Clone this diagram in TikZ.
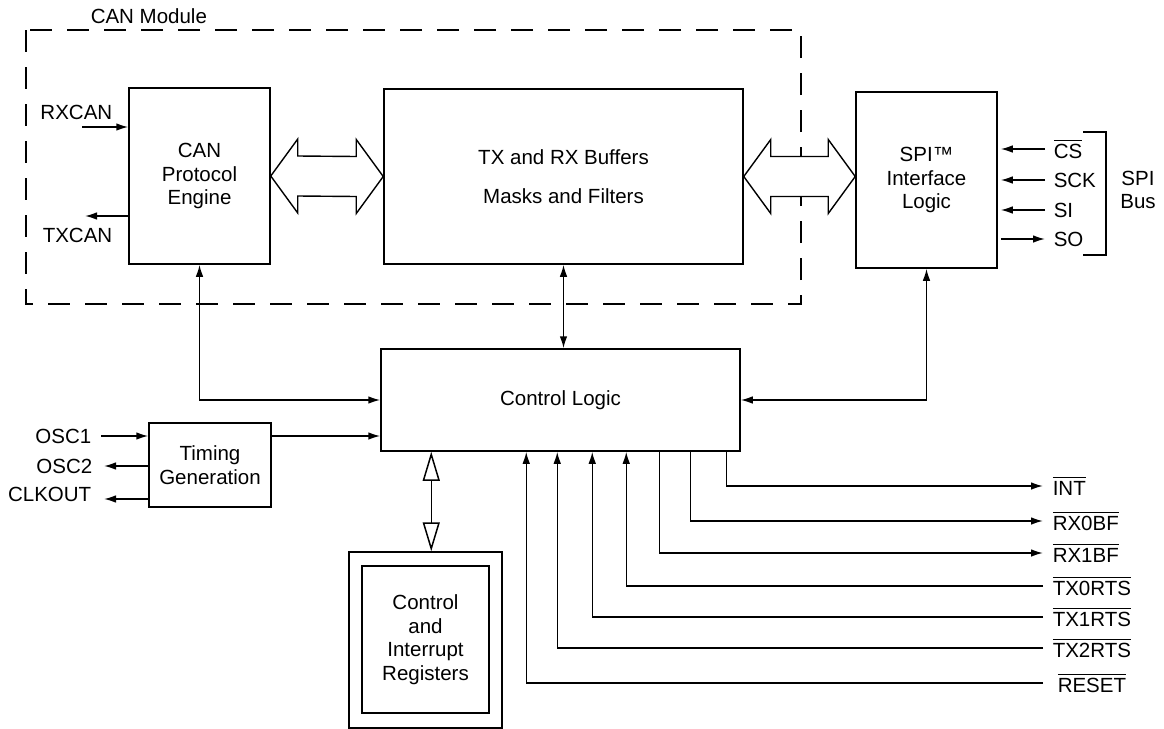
\documentclass[tikz,border=0pt]{standalone}
\usepackage{fontspec}
\setmainfont{Liberation Sans}
\usetikzlibrary{arrows.meta,calc}
\newcommand\ovl[1]{\vbox{\hrule height 0.8pt\kern1.4pt\hbox{#1}}}
\begin{document}
\begin{tikzpicture}[x=0.5pt, y=-0.5pt,
  font=\fontsize{10.25}{11.75}\selectfont, line width=0.75pt,
  box/.style={draw, line width=0.75pt, align=center, inner sep=0pt},
  sig/.style={-{Latex[length=6pt,width=3.8pt]}},
  bisig/.style={{Latex[length=6pt,width=3.8pt]}-{Latex[length=6pt,width=3.8pt]}},
  lbl/.style={inner sep=0pt},
  pin/.style={anchor=west, inner ysep=0pt, inner xsep=4.5pt},
  spipin/.style={anchor=west, inner ysep=0pt, inner xsep=4pt},
  hollow/.style={draw, fill=white, line width=0.7pt, line join=miter},
  modframe/.style={draw, line width=0.7pt, dash pattern=on 11pt off 7.5pt},
  openbi/.style={{Triangle[open,length=14.5pt,width=8.5pt]}-{Triangle[open,length=14.5pt,width=8.5pt]}}
]
\useasboundingbox (0,0) rectangle (1164,729);

% CAN module frame
\draw[modframe] (26,30) rectangle (801,304);
\node[lbl, anchor=west] (canmod) at (90,16) {CAN Module};

% blocks
\node[box, minimum width=70.5pt, minimum height=88pt] (eng) at (199.5,176) {CAN\\Protocol\\Engine};
\node[box, minimum width=179.5pt, minimum height=87.5pt] (buf) at (563.5,176.5) {TX and RX Buffers\\[7.75pt]Masks and Filters};
\node[box, fill=white, minimum width=70.5pt, minimum height=88pt] (spi) at (926.5,180) {SPI™\\Interface\\Logic};
\node[box, minimum width=179.5pt, minimum height=51pt] (ctl) at (560.5,400) {Control Logic};
\node[box, minimum width=61pt, minimum height=42pt] (tim) at (210,465) {Timing\\Generation};
\node[box, minimum width=76.5pt, minimum height=88pt] (regs) at (425.5,640) {};
\node[box, minimum width=63.5pt, minimum height=73.5pt] (regin) at (425.5,639.5) {Control\\and\\Interrupt\\Registers};

% hollow bus arrows
\draw[hollow] (eng.east) -- ++(27,-37) -- ++(0,17) -- ($(buf.west)+(-27,-20)$) -- ++(0,-17)
  -- (buf.west) -- ++(-27,37) -- ++(0,-17) -- ($(eng.east)+(27,20)$) -- ++(0,17) -- cycle;
\coordinate (spiw) at (spi.west |- buf.east);
\draw[hollow] (buf.east) -- ++(27,-37) -- ++(0,17) -- ($(spiw)+(-27,-20)$) -- ++(0,-17)
  -- (spiw) -- ++(-27,37) -- ++(0,-17) -- ($(buf.east)+(27,20)$) -- ++(0,17) -- cycle;

% CAN pins
\node[lbl, anchor=east] (rxcan) at (113,112) {RXCAN};
\node[lbl, anchor=east] (txcan) at (113,235) {TXCAN};
\coordinate (rxin) at (82,127);
\coordinate (txout) at (85,216);
\draw[sig] (rxin) -- (rxin -| eng.west);
\draw[sig] (txout -| eng.west) -- (txout);

% internal connections
\draw[bisig] (eng.south) |- (ctl.west);
\draw[bisig] (buf.south) -- (buf.south |- ctl.north);
\draw[bisig] (spi.south) |- (ctl.east);

% timing
\node[lbl, anchor=east] (osc1) at (92,436) {OSC1};
\node[lbl, anchor=east] (osc2) at (93,466) {OSC2};
\node[lbl, anchor=east] (clk) at (92,494) {CLKOUT};
\draw[sig] ([xshift=4.5pt]osc1.east) -- (osc1.east -| tim.west);
\draw[sig] (tim.west |- osc2.east) -- ([xshift=5.5pt]osc2.east);
\draw[sig] ($(tim.west |- clk.east)+(0,5)$) -- ($(clk.east)+(12,5)$);
\draw[sig] (tim.east |- osc1.east) -- (ctl.west |- osc1.east);

% registers link
\coordinate (cr1) at ($(ctl.south west)+(51,0)$);
\draw[openbi] (cr1) -- (cr1 |- regs.north);

% SPI bus
\node[spipin] (cs) at (1045,149) {\ovl{CS}};
\node[spipin] (sck) at (1045,180) {SCK};
\node[spipin] (si) at (1045,210) {SI};
\node[spipin] (so) at (1045,239) {SO};
\draw[sig, shorten >=1.5pt] (cs.west) -- (cs.west -| spi.east);
\draw[sig, shorten >=1.5pt] (sck.west) -- (sck.west -| spi.east);
\draw[sig, shorten >=1.5pt] (si.west) -- (si.west -| spi.east);
\draw[sig, shorten <=1.5pt] (so.west -| spi.east) -- (so.west);
\draw (1083,132) -| (1106,255) -- (1083,255);
\node[lbl, align=center] (spibus) at (1138,190) {SPI\\Bus};

% control pins
\node[pin] (int) at (1043,486) {\ovl{INT}};
\node[pin] (rx0) at (1043,521) {\ovl{RX0BF}};
\node[pin] (rx1) at (1043,553) {\ovl{RX1BF}};
\node[pin] (tx0) at (1043,586) {\ovl{TX0RTS}};
\node[pin] (tx1) at (1043,617) {\ovl{TX1RTS}};
\node[pin] (tx2) at (1043,648) {\ovl{TX2RTS}};
\node[pin] (rst) at (1048,683) {\ovl{RESET}};
\draw[sig] ($(ctl.south west)+(346,0)$) |- (int.west);
\draw[sig] ($(ctl.south west)+(310,0)$) |- (rx0.west);
\draw[sig] ($(ctl.south west)+(279,0)$) |- (rx1.west);
\draw[sig] (tx0.west) -| ($(ctl.south west)+(246,0)$);
\draw[sig] (tx1.west) -| ($(ctl.south west)+(212,0)$);
\draw[sig] (tx2.west) -| ($(ctl.south west)+(177,0)$);
\draw[sig] ([xshift=-2.5pt]rst.west) -| ($(ctl.south west)+(146,0)$);
\end{tikzpicture}
\end{document}
